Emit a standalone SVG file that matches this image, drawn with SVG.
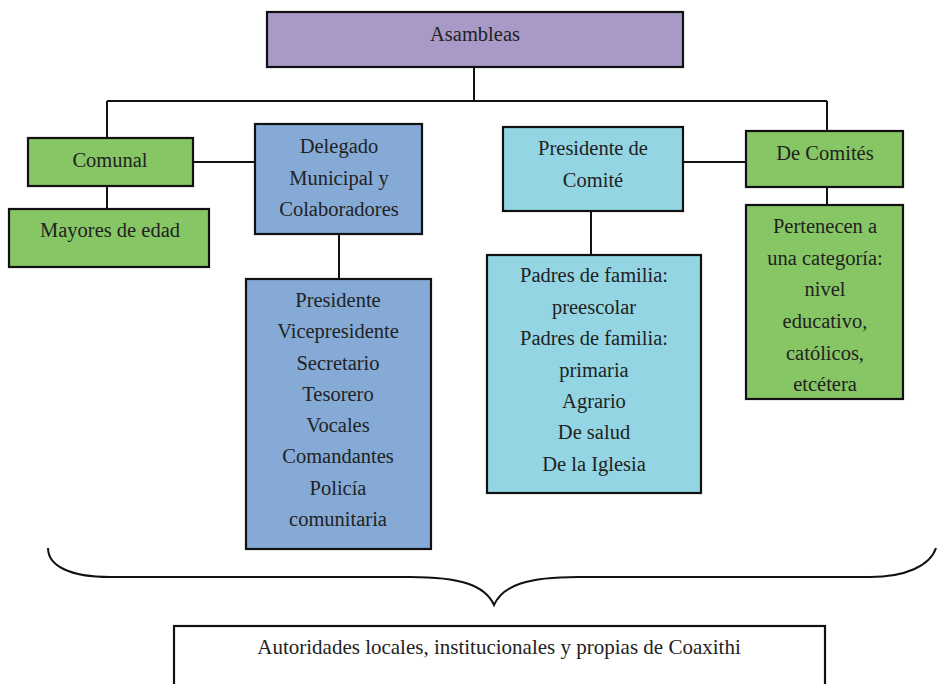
<svg xmlns="http://www.w3.org/2000/svg" width="938" height="684" viewBox="0 0 938 684">
<style>
.box{stroke:#111;stroke-width:2.2}
.purple{fill:#a899c6}
.green{fill:#87c664}
.blue{fill:#85aad6}
.cyan{fill:#93d5e3}
.t{font-size:20.5px;fill:#222;text-anchor:middle}
.conn{stroke:#111;stroke-width:2;fill:none}
</style>
<rect x="0" y="0" width="938" height="684" fill="#fff"/>
<g id="connectors">
<path class="conn" d="M474 67V101M107 101H827M107 101V138M827 101V131"/>
<path class="conn" d="M107 186V209"/>
<path class="conn" d="M193 162H255"/>
<path class="conn" d="M339 234V279"/>
<path class="conn" d="M683 162H746"/>
<path class="conn" d="M591 211V255"/>
<path class="conn" d="M827 187V205"/>
</g>
<g font-family="'Liberation Serif', serif">
<g id="asambleas"><rect class="box purple" x="267" y="12" width="416" height="55"/><text class="t" x="475" y="41">Asambleas</text></g>
<g id="comunal"><rect class="box green" x="28" y="138" width="165" height="48"/><text class="t" x="110" y="167">Comunal</text></g>
<g id="mayores"><rect class="box green" x="9" y="209" width="200" height="58"/><text class="t" x="110" y="237">Mayores de edad</text></g>
<g id="delegado"><rect class="box blue" x="255" y="124" width="167" height="110"/><text class="t" x="339" y="153">Delegado</text><text class="t" x="339" y="185">Municipal y</text><text class="t" x="339" y="216">Colaboradores</text></g>
<g id="cargos"><rect class="box blue" x="246" y="279" width="185" height="270"/>
<text class="t" x="338" y="307">Presidente</text><text class="t" x="338" y="338">Vicepresidente</text><text class="t" x="338" y="370">Secretario</text><text class="t" x="338" y="401">Tesorero</text><text class="t" x="338" y="432">Vocales</text><text class="t" x="338" y="463">Comandantes</text><text class="t" x="338" y="495">Policía</text><text class="t" x="338" y="526">comunitaria</text></g>
<g id="presidente-comite"><rect class="box cyan" x="503" y="127" width="180" height="84"/><text class="t" x="593" y="155">Presidente de</text><text class="t" x="593" y="187">Comité</text></g>
<g id="padres"><rect class="box cyan" x="487" y="255" width="214" height="238"/>
<text class="t" x="594" y="282">Padres de familia:</text><text class="t" x="594" y="314">preescolar</text><text class="t" x="594" y="345">Padres de familia:</text><text class="t" x="594" y="377">primaria</text><text class="t" x="594" y="408">Agrario</text><text class="t" x="594" y="439">De salud</text><text class="t" x="594" y="471">De la Iglesia</text></g>
<g id="de-comites"><rect class="box green" x="746" y="131" width="157" height="56"/><text class="t" x="825" y="160">De Comités</text></g>
<g id="pertenecen"><rect class="box green" x="746" y="205" width="157" height="194"/>
<text class="t" x="825" y="233">Pertenecen a</text><text class="t" x="825" y="265">una categoría:</text><text class="t" x="825" y="296">nivel</text><text class="t" x="825" y="328">educativo,</text><text class="t" x="825" y="360">católicos,</text><text class="t" x="825" y="391">etcétera</text></g>
<g id="brace"><path class="conn" stroke-width="1.6" d="M48 548C48 566 70 577 110 577H410C460 577 485 585 494 605C503 585 528 577 578 577H870C905 577 930 566 936 548"/></g>
<g id="autoridades"><rect class="box" fill="#fff" x="174" y="626" width="651" height="70"/><text class="t" style="font-size:21px" x="499" y="654">Autoridades locales, institucionales y propias de Coaxithi</text></g>
</g>
</svg>
